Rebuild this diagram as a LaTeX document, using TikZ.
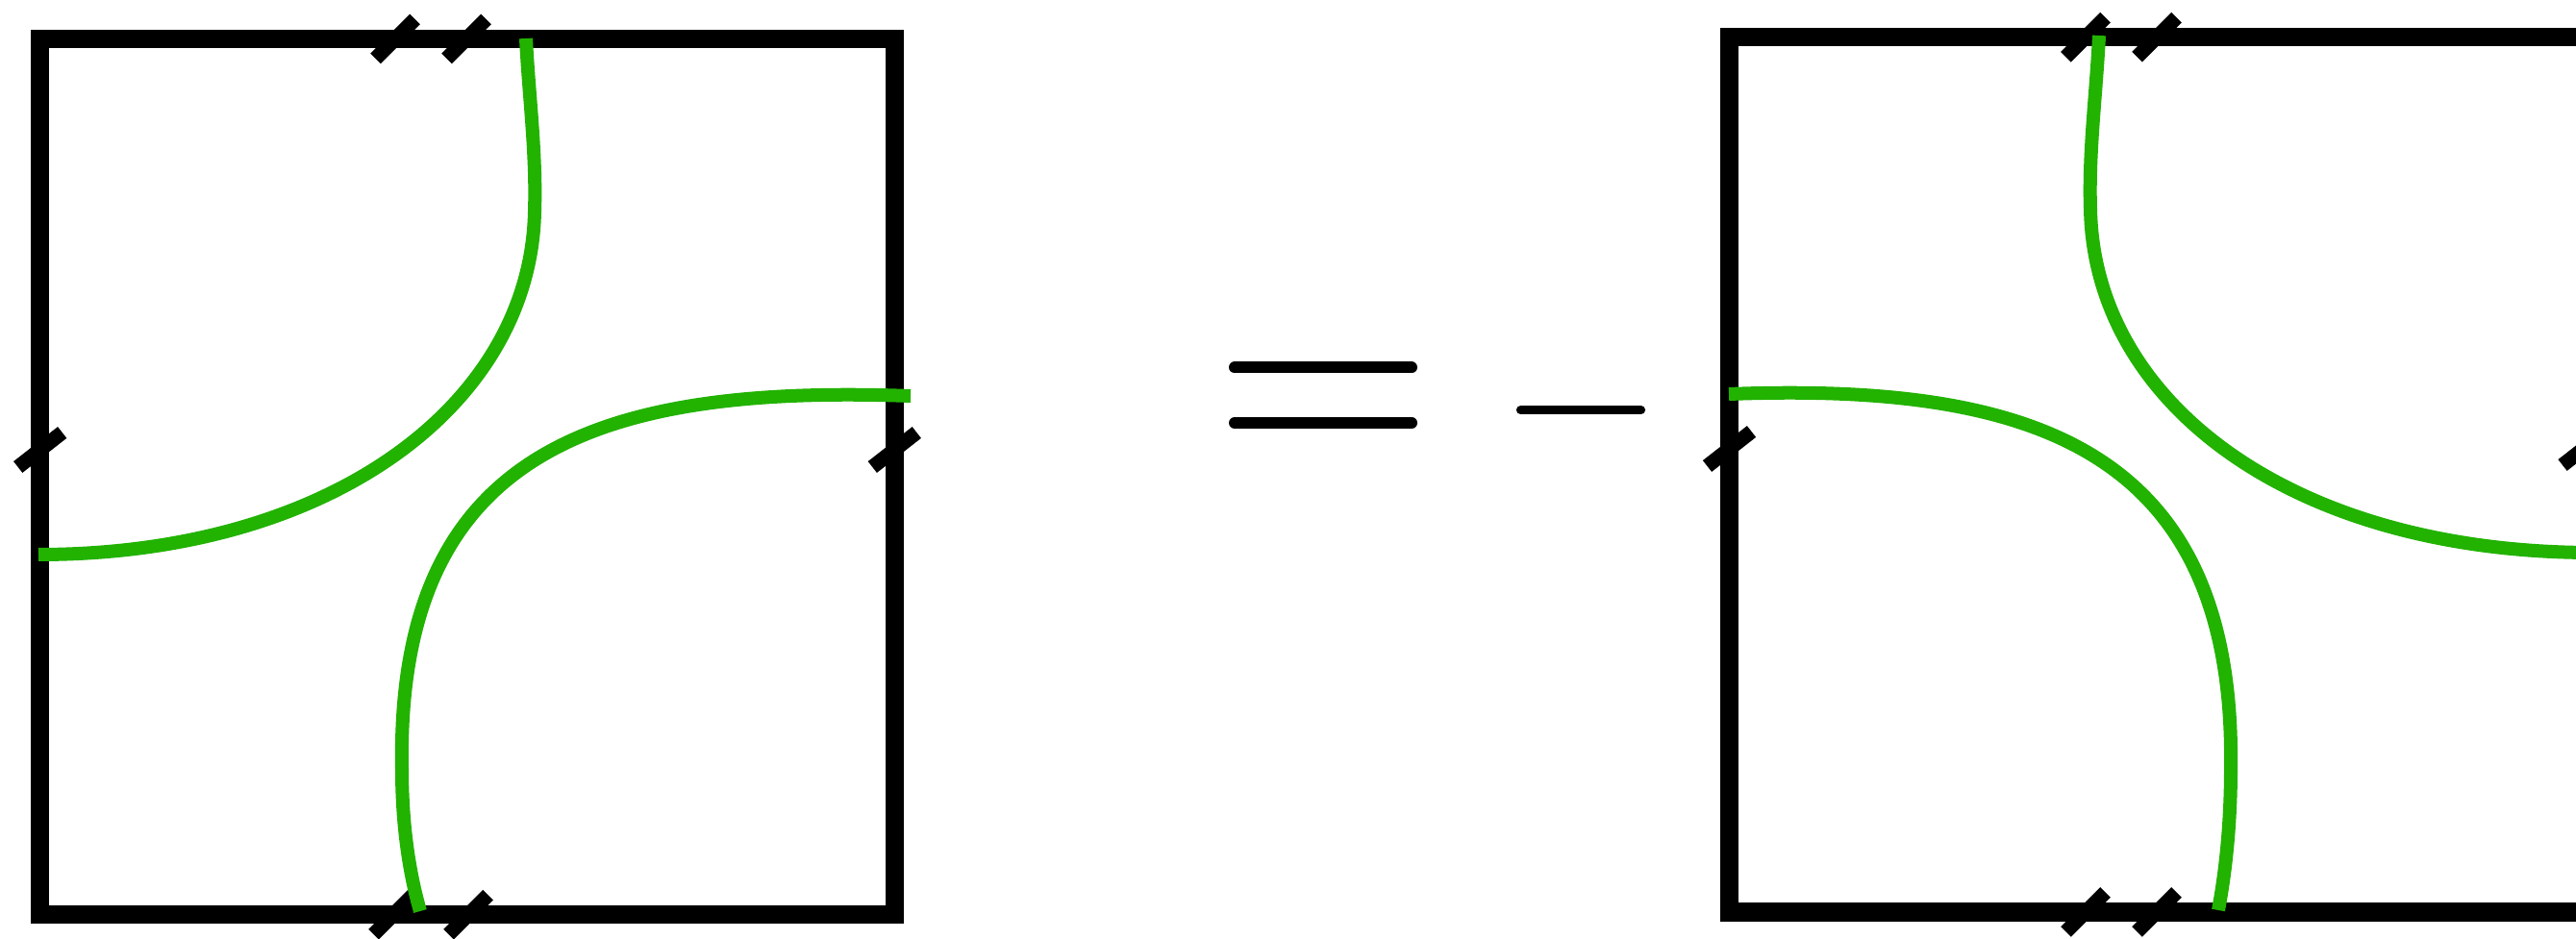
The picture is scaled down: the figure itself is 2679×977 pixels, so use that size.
\documentclass[tikz,border=0pt]{standalone}
\usetikzlibrary{calc}
\definecolor{chalkgreen}{RGB}{34,178,0}
\begin{document}
\begin{tikzpicture}[x=0.01cm,y=-0.01cm,
  frame/.style={line width=0.19cm, line join=miter},
  tickline/.style={line width=0.15cm, line cap=butt},
  strand/.style={draw=chalkgreen, line width=0.14cm, line cap=butt},
  opline/.style={line width=0.12cm, line cap=round},
  minusline/.style={line width=0.09cm, line cap=round}]
\useasboundingbox (0,0) rectangle (2679,977);
\fill[white] (0,0) rectangle (2679,977);
\clip (0,0) rectangle (2679,977);
% squares
\coordinate (LA) at (41.7,40.5); \coordinate (LB) at (930.3,951.7);
\draw[frame] (LA) rectangle (LB);
\coordinate (RA) at (1798.5,38.8); \coordinate (RB) at (2688,949);
\draw[frame] (RA) rectangle (RB);
% tick centres
\coordinate (lt1) at (411,40.5);   \coordinate (lt2) at (485,40.5);
\coordinate (lb1) at (409,951.7);  \coordinate (lb2) at (487,951.7);
\coordinate (ll) at (41.7,468);    \coordinate (lr) at (930.3,468);
\coordinate (rt1) at (2169,38.8);  \coordinate (rt2) at (2243,38.8);
\coordinate (rb1) at (2169,949);   \coordinate (rb2) at (2243,949);
\coordinate (rl) at (1798.5,467);  \coordinate (rr) at (2688,466);
% ticks on top and bottom (45 deg)
\foreach \t in {lt1,lt2,lb1,lb2,rt1,rt2,rb1,rb2}
  \draw[tickline] ($(\t)+(-20.5,20.5)$) -- ($(\t)+(20.5,-20.5)$);
% ticks on the sides (about 38 deg)
\foreach \t in {ll,lr,rl,rr}
  \draw[tickline] ($(\t)+(-23,18)$) -- ($(\t)+(23,-18)$);
% strands, left square
\coordinate (a0) at (547,40); \coordinate (a1) at (556,220); \coordinate (a2) at (40,577);
\draw[strand] (a0) .. controls (550,100) and (558,160) .. (a1) .. controls (552,420) and (345,577) .. (a2);
\coordinate (b0) at (947,412); \coordinate (b1) at (418,800); \coordinate (b2) at (437,948);
\draw[strand] (b0) .. controls (620,400) and (412,470) .. (b1) .. controls (418,860) and (426,910) .. (b2);
% strands, right square
\coordinate (c0) at (2183,37); \coordinate (c1) at (2174,218); \coordinate (c2) at (2700,575);
\draw[strand] (c0) .. controls (2180,98) and (2172,158) .. (c1) .. controls (2178,420) and (2385,576) .. (c2);
\coordinate (d0) at (1798,410); \coordinate (d1) at (2320,798); \coordinate (d2) at (2307,947);
\draw[strand] (d0) .. controls (2115,398) and (2324,468) .. (d1) .. controls (2320,860) and (2314,910) .. (d2);
% equals and minus
\coordinate (e1a) at (1284,382.5); \coordinate (e1b) at (1468,382.5);
\coordinate (e2a) at (1284,440); \coordinate (e2b) at (1468,440);
\draw[opline] (e1a) -- (e1b);
\draw[opline] (e2a) -- (e2b);
\coordinate (m1) at (1581.4,426.7); \coordinate (m2) at (1706.6,426.7);
\draw[minusline] (m1) -- (m2);
\end{tikzpicture}
\end{document}
